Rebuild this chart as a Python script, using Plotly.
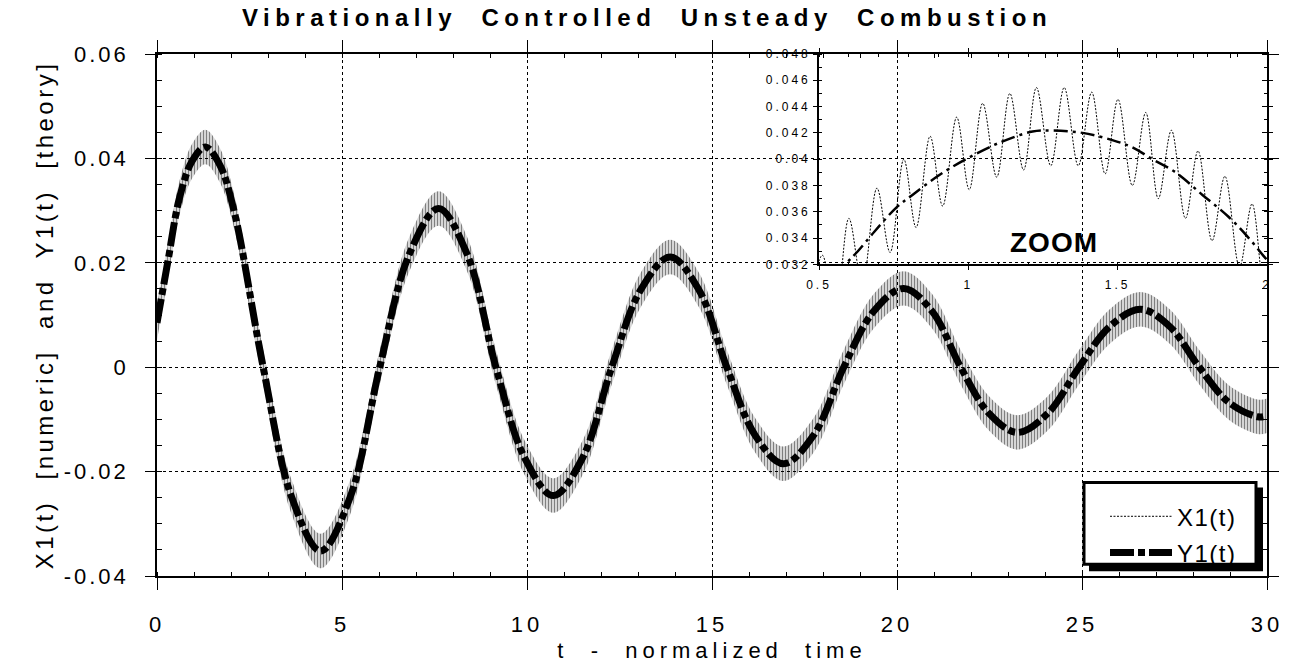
import plotly.graph_objects as go

# ---------------- values ----------------
# Y1(t) [theory], main panel
y1_t = [0.0, 0.3, 0.6, 0.95, 1.31, 1.7, 2.09, 2.87, 3.64, 4.42, 5.22, 6.02, 6.81,
        7.61, 8.39, 9.16, 9.94, 10.71, 11.50, 12.29, 13.08, 13.87, 14.64, 15.40,
        16.17, 16.93, 17.74, 18.56, 19.37, 20.18, 20.95, 21.72, 22.48, 23.25,
        24.08, 24.92, 25.75, 26.58, 27.37, 28.17, 28.96, 29.75, 30.0]
y1_v = [0.0085, 0.0205, 0.0322, 0.0395, 0.0422, 0.0387, 0.0297, 0.0, -0.0249,
        -0.0352, -0.0249, 0.0, 0.0215, 0.0304, 0.0215, 0.0, -0.0174, -0.0246,
        -0.0174, 0.0, 0.0149, 0.0211, 0.0149, 0.0, -0.0131, -0.0185, -0.0131,
        0.0, 0.0107, 0.0151, 0.0107, 0.0, -0.0088, -0.0125, -0.0088, 0.0,
        0.0078, 0.0111, 0.0078, 0.0, -0.0067, -0.0095, -0.0093]
# half-height of the fast X1(t) [numeric] oscillation band around Y1 (main panel)
x1_spread = 0.0033

# ZOOM inset: X1(t) successive maxima / minima
x1z_t = [0.466, 0.511, 0.555, 0.600, 0.645, 0.694, 0.738, 0.784, 0.825, 0.872,
         0.914, 0.961, 1.003, 1.048, 1.095, 1.139, 1.185, 1.228, 1.276, 1.321,
         1.368, 1.413, 1.458, 1.501, 1.549, 1.594, 1.636, 1.680, 1.727, 1.769,
         1.816, 1.859, 1.908, 1.950, 1.995, 2.04]
x1z_v = [0.0275, 0.0327, 0.0285, 0.0355, 0.0305, 0.0378, 0.0329, 0.0400, 0.0348,
         0.04175, 0.03643, 0.0432, 0.03768, 0.04425, 0.03863, 0.0450, 0.03918,
         0.04545, 0.0395, 0.04545, 0.0395, 0.0451, 0.03888, 0.04455, 0.0380,
         0.04355, 0.0370, 0.0422, 0.0355, 0.04063, 0.0338, 0.0387, 0.0318,
         0.0366, 0.0297, 0.0340]
# ZOOM inset: Y1(t)
y1z_t = [0.5, 0.591, 0.630, 0.686, 0.758, 0.814, 0.903, 0.992, 1.104, 1.215,
         1.282, 1.382, 1.482, 1.549, 1.616, 1.694, 1.783, 1.872, 1.939, 1.989, 2.02]
y1z_v = [0.0295, 0.03205, 0.0330, 0.0345, 0.0363, 0.0373, 0.0388, 0.0400, 0.04125,
         0.0421, 0.04218, 0.0420, 0.04145, 0.0409, 0.0400, 0.0390, 0.0373, 0.0356,
         0.0340, 0.03263, 0.0318]

x_tick_vals = [0, 5, 10, 15, 20, 25, 30]
x_tick_text = ["0", "5", "10", "15", "20", "25", "30"]
y_tick_vals = [-0.04, -0.02, 0, 0.02, 0.04, 0.06]
y_tick_text = ["-0.04", "-0.02", "0", "0.02", "0.04", "0.06"]
zx_tick_vals = [0.5, 1, 1.5, 2]
zx_tick_text = ["0.5", "1", "1.5", "2"]
zy_tick_vals = [0.032, 0.034, 0.036, 0.038, 0.040, 0.042, 0.044, 0.046, 0.048]
zy_tick_text = ["0.032", "0.034", "0.036", "0.038", "0.04", "0.042", "0.044", "0.046", "0.048"]

FONT = "Liberation Sans, Arial, Helvetica, sans-serif"

fig = go.Figure()

# X1 fast-oscillation band in the main panel
fig.add_trace(go.Scatter(
    x=y1_t, y=[v + x1_spread for v in y1_v], mode="lines",
    line=dict(width=0, shape="spline", color="black"),
    showlegend=False, hoverinfo="skip"))
fig.add_trace(go.Scatter(
    x=y1_t, y=[v - x1_spread for v in y1_v], mode="lines",
    line=dict(width=0, shape="spline", color="black"),
    fill="tonexty", fillcolor="rgba(0,0,0,0)",
    fillpattern=dict(shape="|", size=3, solidity=0.55, fgcolor="black",
                     bgcolor="rgba(0,0,0,0)"),
    showlegend=False, hoverinfo="skip"))

# inset X1 (also provides the legend entry)
fig.add_trace(go.Scatter(
    x=x1z_t, y=x1z_v, mode="lines", name="X1(t)", legendgroup="x1",
    line=dict(color="black", width=1, dash="2px,1.5px", shape="spline"),
    xaxis="x2", yaxis="y2"))

# main Y1
fig.add_trace(go.Scatter(
    x=y1_t, y=y1_v, mode="lines", name="Y1(t)", legendgroup="y1",
    line=dict(color="black", width=7, dash="24px,4px,7px,4px", shape="spline")))

# inset Y1
fig.add_trace(go.Scatter(
    x=y1z_t, y=y1z_v, mode="lines", showlegend=False, legendgroup="y1",
    line=dict(color="black", width=2.5, dash="14px,5px,3px,5px", shape="spline"),
    xaxis="x2", yaxis="y2"))

L, R, T, B = 157, 27, 54, 81
W, H = 1294, 671
pw, ph = W - L - R, H - T - B


def px(x):
    return (x - L) / pw


def py(y):
    return (H - B - y) / ph


shapes = [
    dict(type="rect", xref="paper", yref="paper", x0=px(1089), x1=px(1263),
         y0=py(585), y1=py(499), fillcolor="black", line=dict(width=0), layer="above"),
    dict(type="rect", xref="paper", yref="paper", x0=px(1084), x1=px(1256),
         y0=py(578), y1=py(494), fillcolor="white", line=dict(width=3, color="black"),
         layer="above"),
]

axis_common = dict(showline=True, linecolor="black", linewidth=1.6, mirror="ticks",
                   ticks="outside", tickcolor="black", zeroline=False)

fig.update_layout(
    width=W, height=H, autosize=False,
    margin=dict(l=L, r=R, t=T, b=B),
    paper_bgcolor="white", plot_bgcolor="rgba(0,0,0,0)",
    font=dict(family=FONT, color="black"),
    title=dict(text="Vibrationally  Controlled  Unsteady  Combustion",
               x=0.5, xref="container", xanchor="center",
               y=1 - 18 / H, yref="container", yanchor="middle",
               font=dict(size=24, weight="bold", family=FONT)),
    xaxis=dict(range=[0, 30], tickmode="array", tickvals=x_tick_vals, ticktext=x_tick_text,
               ticklen=12, tickfont=dict(size=22), ticklabelstandoff=16,
               showgrid=True, gridcolor="black", griddash="dot", gridwidth=1,
               minor=dict(tickmode="linear", tick0=0, dtick=1, ticks="inside", ticklen=4,
                          tickcolor="black", showgrid=False),
               title=dict(text="t  -  normalized  time", font=dict(size=22), standoff=6),
               **axis_common),
    yaxis=dict(range=[-0.04, 0.06], tickmode="array", tickvals=y_tick_vals, ticktext=y_tick_text,
               ticklen=10, tickfont=dict(size=22), ticklabelstandoff=12,
               showgrid=True, gridcolor="black", griddash="dot", gridwidth=1,
               minor=dict(tickmode="linear", tick0=0, dtick=0.005, ticks="inside", ticklen=5,
                          tickcolor="black", showgrid=False),
               title=dict(text="X1(t)  [numeric]  and  Y1(t)  [theory]", font=dict(size=24),
                          standoff=18),
               **axis_common),
    xaxis2=dict(domain=[px(819), 1.0], anchor="y2", range=[0.5, 2],
                tickmode="array", tickvals=zx_tick_vals, ticktext=zx_tick_text,
                ticklen=4, tickfont=dict(size=12), ticklabelstandoff=4, showgrid=False,
                minor=dict(tickmode="linear", tick0=0.5, dtick=0.1, ticks="inside",
                           ticklen=3, tickcolor="black"),
                **axis_common),
    yaxis2=dict(domain=[py(270), 1.0], anchor="x2", range=[0.032, 0.048],
                tickmode="array", tickvals=zy_tick_vals, ticktext=zy_tick_text,
                ticklen=4, tickfont=dict(size=12), showgrid=False,
                minor=dict(tickmode="linear", tick0=0.032, dtick=0.001, ticks="inside",
                           ticklen=3, tickcolor="black"),
                **axis_common),
    legend=dict(x=px(1105), xanchor="left", y=py(506), yanchor="top",
                bgcolor="rgba(0,0,0,0)", borderwidth=0,
                font=dict(size=24, family=FONT), traceorder="grouped",
                tracegroupgap=2, itemwidth=62),
    shapes=shapes,
    annotations=[dict(text="<b>ZOOM</b>", x=1.287, y=0.03364, xref="x2", yref="y2",
                      showarrow=False, font=dict(size=28, family=FONT),
                      xanchor="center", yanchor="middle")],
)

post_js = """
document.body.style.margin='0';
document.body.style.overflow='hidden';
var gd=document.getElementById('{plot_id}');
function sp(sel,v){gd.querySelectorAll(sel).forEach(function(e){e.style.letterSpacing=v;});}
sp('.gtitle','5.5px');
sp('.xtick text','4px');
sp('.ytick text','3px');
sp('.x2tick text','3px');
sp('.y2tick text','3px');
sp('.xtitle','5px');
sp('.ytitle','3.5px');
sp('.legendtext','1.5px');
sp('.annotation-text','1px');
"""

fig.write_html("out.html", post_script=post_js, config={"displayModeBar": False})
